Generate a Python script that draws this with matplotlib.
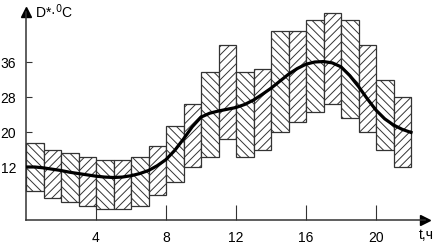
import matplotlib
matplotlib.use('Agg')
import matplotlib.pyplot as plt

plt.rcParams['font.family'] = ['Liberation Sans', 'DejaVu Sans']
plt.rcParams['hatch.linewidth'] = 0.7
plt.rcParams['hatch.color'] = '#222222'

# hourly bars: low / high of D* (deg C)
hours = list(range(22))
low = [6.5, 4.9, 3.9, 3.0, 2.4, 2.4, 3.0, 5.5, 8.6, 12.1, 14.2,
       18.4, 14.4, 16.0, 19.9, 22.4, 24.6, 26.3, 23.1, 19.9, 15.9, 12.1]
high = [17.6, 16.0, 15.2, 14.4, 13.5, 13.5, 14.4, 16.8, 21.4, 26.4, 33.6,
        40.0, 33.6, 34.4, 43.1, 43.1, 45.6, 47.1, 45.6, 40.0, 31.9, 27.9]

# smooth mean curve, read every half hour
t_curve = [i * 0.5 for i in range(45)]
d_curve = [12.0, 12.0, 11.8, 11.5, 11.2, 10.8, 10.5, 10.2, 9.9, 9.7, 9.6,
           9.7, 10.0, 10.5, 11.2, 12.3, 13.7, 15.8, 18.4, 21.2, 23.4, 24.3,
           24.8, 25.2, 25.6, 26.3, 27.3, 28.6, 30.0, 31.6, 33.2, 34.5, 35.5,
           36.0, 36.1, 35.8, 34.9, 32.9, 30.4, 27.6, 25.0, 23.0, 21.6, 20.6, 19.9]

xticks = [4, 8, 12, 16, 20]
yticks = [12, 20, 28, 36]

W, H = 436, 247
fig = plt.figure(figsize=(W / 100, H / 100), dpi=100)
x0, x1, y0, y1 = 26, 425, 219.5, 12
ax = fig.add_axes([x0 / W, 1 - y0 / H, (x1 - x0) / W, (y0 - y1) / H])
ax.set_xlim(0, (x1 - x0) / 17.5)
ax.set_ylim(0, (y0 - y1) / 4.375)

for i, h in enumerate(hours):
    ax.bar(h, high[i] - low[i], bottom=low[i], width=1.0, align='edge',
           facecolor='white', edgecolor='#333333', linewidth=0.9,
           hatch='\\\\\\\\' if i % 2 == 0 else '////', zorder=2, clip_on=False)

ax.plot(t_curve, d_curve, color='black', lw=2.3, zorder=3)

for s in ['top', 'right']:
    ax.spines[s].set_visible(False)
for s in ['left', 'bottom']:
    ax.spines[s].set_color('#333333')
    ax.spines[s].set_linewidth(1.1)

ax.plot(1, 0, '>', color='black', ms=7, transform=ax.transAxes, clip_on=False)
ax.plot(0, 1, '^', color='black', ms=7, transform=ax.transAxes, clip_on=False)

ax.set_xticks(xticks)
ax.set_yticks(yticks)
ax.tick_params(axis='x', direction='in', length=11, width=0.8, color='#333333',
               pad=8, labelsize=10)
ax.tick_params(axis='y', direction='in', length=4, width=0.8, color='#333333',
               pad=7, labelsize=10)

fig.text(35 / W, 1 - 12 / H, 'D*·$^0$C', fontsize=10, va='center', ha='left')
fig.text(419 / W, 1 - 235 / H, 't,ч', fontsize=10, va='center', ha='left')

fig.savefig('out.png', dpi=100)
